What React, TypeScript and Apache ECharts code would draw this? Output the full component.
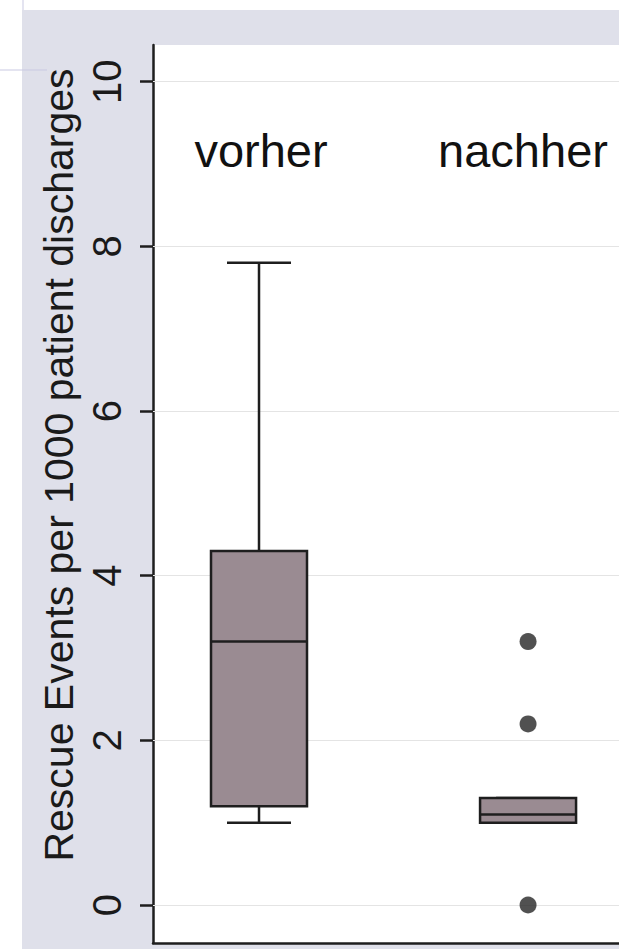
import React, { useEffect, useRef } from "react";
import * as echarts from "echarts";

// ---- data ----
const categories = ["vorher", "nachher"];
// [min, Q1, median, Q3, max]
const boxValues = [
  [1.0, 1.2, 3.2, 4.3, 7.8],
  [1.0, 1.0, 1.1, 1.3, 1.3],
];
const outlierGroup = [1, 1, 1];
const outlierValues = [3.2, 2.2, 0];
const yTickValues = [0, 2, 4, 6, 8, 10];
const yAxisTitle = "Rescue Events per 1000 patient discharges";

// ---- style ----
const INK = "#1e1e1e";
const BOX_FILL = "#9a8b92";
const BOX_W = 96;
const CAP_W = 64;
const LW = 2.5;
const FONT = "'Liberation Sans', Arial, Helvetica, sans-serif";

export default function App() {
  const ref = useRef<HTMLDivElement>(null);

  useEffect(() => {
    if (!ref.current) return;
    const chart = echarts.init(ref.current, undefined, { renderer: "svg" });

    const lineStyle = { stroke: INK, lineWidth: LW };

    const option: any = {
      animation: false,
      backgroundColor: "#ffffff",
      graphic: [
        {
          type: "rect",
          z: -10,
          silent: true,
          shape: { x: 22, y: 10, width: 600, height: 945 },
          style: { fill: "#dfe0ea" },
        },
        {
          type: "line",
          z: -9,
          silent: true,
          shape: { x1: 23, y1: 0, x2: 23, y2: 10 },
          style: { stroke: "#c9c9e2", lineWidth: 1 },
        },
        {
          type: "line",
          z: -9,
          silent: true,
          shape: { x1: 0, y1: 70, x2: 47, y2: 70 },
          style: { stroke: "#c9c9e2", lineWidth: 1 },
        },
        {
          type: "text",
          z: 10,
          x: 261,
          y: 150,
          style: {
            text: categories[0],
            fontSize: 47,
            fontFamily: FONT,
            fill: "#111",
            textAlign: "center",
            textVerticalAlign: "middle",
          },
        },
        {
          type: "text",
          z: 10,
          x: 523,
          y: 150,
          style: {
            text: categories[1],
            fontSize: 47,
            fontFamily: FONT,
            fill: "#111",
            textAlign: "center",
            textVerticalAlign: "middle",
          },
        },
      ],
      grid: {
        left: 153,
        right: 0,
        top: 45,
        bottom: 6,
        show: true,
        backgroundColor: "#ffffff",
        borderWidth: 0,
      },
      xAxis: {
        type: "value",
        min: -0.394,
        max: 1.338,
        axisLine: { show: true, onZero: false, lineStyle: { color: INK, width: LW } },
        axisTick: { show: false },
        axisLabel: { show: false },
        splitLine: { show: false },
      },
      yAxis: {
        type: "value",
        min: -0.4615,
        max: 10.446,
        name: yAxisTitle,
        nameLocation: "middle",
        nameRotate: 90,
        nameGap: 31,
        nameTextStyle: {
          fontSize: 41,
          fontFamily: FONT,
          color: "#1a1a1a",
          padding: [0, 0, 0, 58],
        },
        axisLine: { show: true, onZero: false, lineStyle: { color: INK, width: LW } },
        axisTick: {
          show: true,
          customValues: yTickValues,
          length: 13,
          lineStyle: { color: INK, width: LW },
        },
        axisLabel: {
          customValues: yTickValues,
          rotate: 90,
          margin: 26,
          fontSize: 40,
          fontFamily: FONT,
          color: "#1a1a1a",
        },
        splitLine: { show: false },
      },
      series: [
        {
          type: "custom",
          name: "box",
          data: boxValues.map((v, i) => [i, ...v]),
          encode: { x: 0, y: [1, 2, 3, 4, 5] },
          renderItem: (params: any, api: any) => {
            const x = api.value(0);
            const pMin = api.coord([x, api.value(1)]);
            const pQ1 = api.coord([x, api.value(2)]);
            const pMed = api.coord([x, api.value(3)]);
            const pQ3 = api.coord([x, api.value(4)]);
            const pMax = api.coord([x, api.value(5)]);
            const cx = pMin[0];
            const h = BOX_W / 2;
            const c = CAP_W / 2;
            return {
              type: "group",
              children: [
                { type: "line", shape: { x1: cx, y1: pMax[1], x2: cx, y2: pQ3[1] }, style: lineStyle },
                { type: "line", shape: { x1: cx, y1: pQ1[1], x2: cx, y2: pMin[1] }, style: lineStyle },
                { type: "line", shape: { x1: cx - c, y1: pMax[1], x2: cx + c, y2: pMax[1] }, style: lineStyle },
                { type: "line", shape: { x1: cx - c, y1: pMin[1], x2: cx + c, y2: pMin[1] }, style: lineStyle },
                {
                  type: "rect",
                  shape: { x: cx - h, y: pQ3[1], width: BOX_W, height: pQ1[1] - pQ3[1] },
                  style: { fill: BOX_FILL, stroke: INK, lineWidth: LW },
                },
                { type: "line", shape: { x1: cx - h, y1: pMed[1], x2: cx + h, y2: pMed[1] }, style: lineStyle },
              ],
            };
          },
        },
        {
          type: "scatter",
          name: "outliers",
          data: outlierGroup.map((g, i) => [g, outlierValues[i]]),
          symbol: "circle",
          symbolSize: 17,
          itemStyle: { color: "#262626" },
          z: 5,
          markLine: {
            silent: true,
            symbol: ["none", "none"],
            label: { show: false },
            lineStyle: { color: "#e4e4e4", width: 1, type: "solid" },
            data: yTickValues.map((v) => ({ yAxis: v })),
            z: 1,
          },
        },
      ],
    };

    chart.setOption(option);
    return () => chart.dispose();
  }, []);

  return (
    <div
      ref={ref}
      style={{ position: "fixed", left: 0, top: 0, width: 619, height: 949 }}
    />
  );
}
